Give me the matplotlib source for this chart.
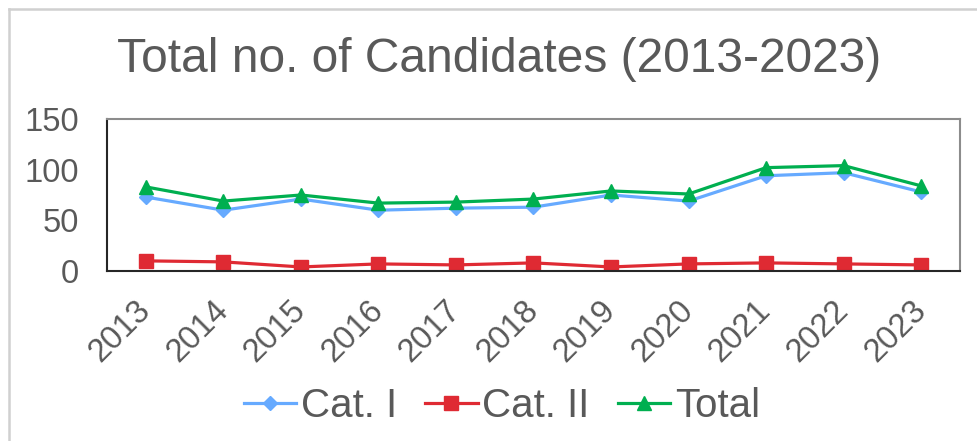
import matplotlib.pyplot as plt
from matplotlib.lines import Line2D

plt.rcParams['font.family'] = ['Liberation Sans', 'DejaVu Sans']

years = ["2013", "2014", "2015", "2016", "2017", "2018", "2019", "2020", "2021", "2022", "2023"]
cat1 = [73, 60, 71, 60, 62, 63, 75, 69, 94, 97, 78]
cat2 = [10, 9, 4, 7, 6, 8, 4, 7, 8, 7, 6]
total = [83, 69, 75, 67, 68, 71, 79, 76, 102, 104, 84]

grey_text = "#595959"

fig = plt.figure(figsize=(9.78, 4.41), dpi=100)
ax = fig.add_axes([107/978, 1-271/441, 853/978, 152/441])

x = range(len(years))
ax.plot(x, cat1, color="#66AAFF", lw=2.3, marker="D", ms=7, label="Cat. I")
ax.plot(x, cat2, color="#DF2A33", lw=2.3, marker="s", ms=10, label="Cat. II")
ax.plot(x, total, color="#00AF50", lw=2.3, marker="^", ms=10, label="Total")

ax.set_xlim(-0.5, len(years) - 0.5)
ax.set_ylim(0, 150)
ax.set_yticks([0, 50, 100, 150])
ax.set_xticks(list(x))
ax.set_xticklabels(years, rotation=45, ha="right", va="center", rotation_mode="anchor")
ax.tick_params(axis="both", length=0, labelsize=23.5, labelcolor=grey_text)
ax.tick_params(axis="y", pad=20)
ax.tick_params(axis="x", pad=25)

for s in ["left", "bottom"]:
    ax.spines[s].set_color("#262626")
    ax.spines[s].set_linewidth(1.5)
for s in ["top", "right"]:
    ax.spines[s].set_color("#8c8c8c")
    ax.spines[s].set_linewidth(1.5)

fig.text(499/978, 1-60/441, "Total no. of Candidates (2013-2023)", ha="center", va="center",
         fontsize=34.5, color=grey_text)

leg = fig.legend(loc="center", bbox_to_anchor=(502/978, 1-406/441), ncol=3, frameon=False,
                 fontsize=29, handlelength=1.3, handletextpad=0.12, columnspacing=0.7)
for t in leg.get_texts():
    t.set_color(grey_text)

# outer chart border (only left and top visible)
fig.add_artist(Line2D([9/978, 9/978], [0, 1-9/441], transform=fig.transFigure, color="#d0d0d0", lw=1.8))
fig.add_artist(Line2D([9/978, 1], [1-9/441, 1-9/441], transform=fig.transFigure, color="#d0d0d0", lw=1.8))

fig.savefig("out.png", dpi=100)
